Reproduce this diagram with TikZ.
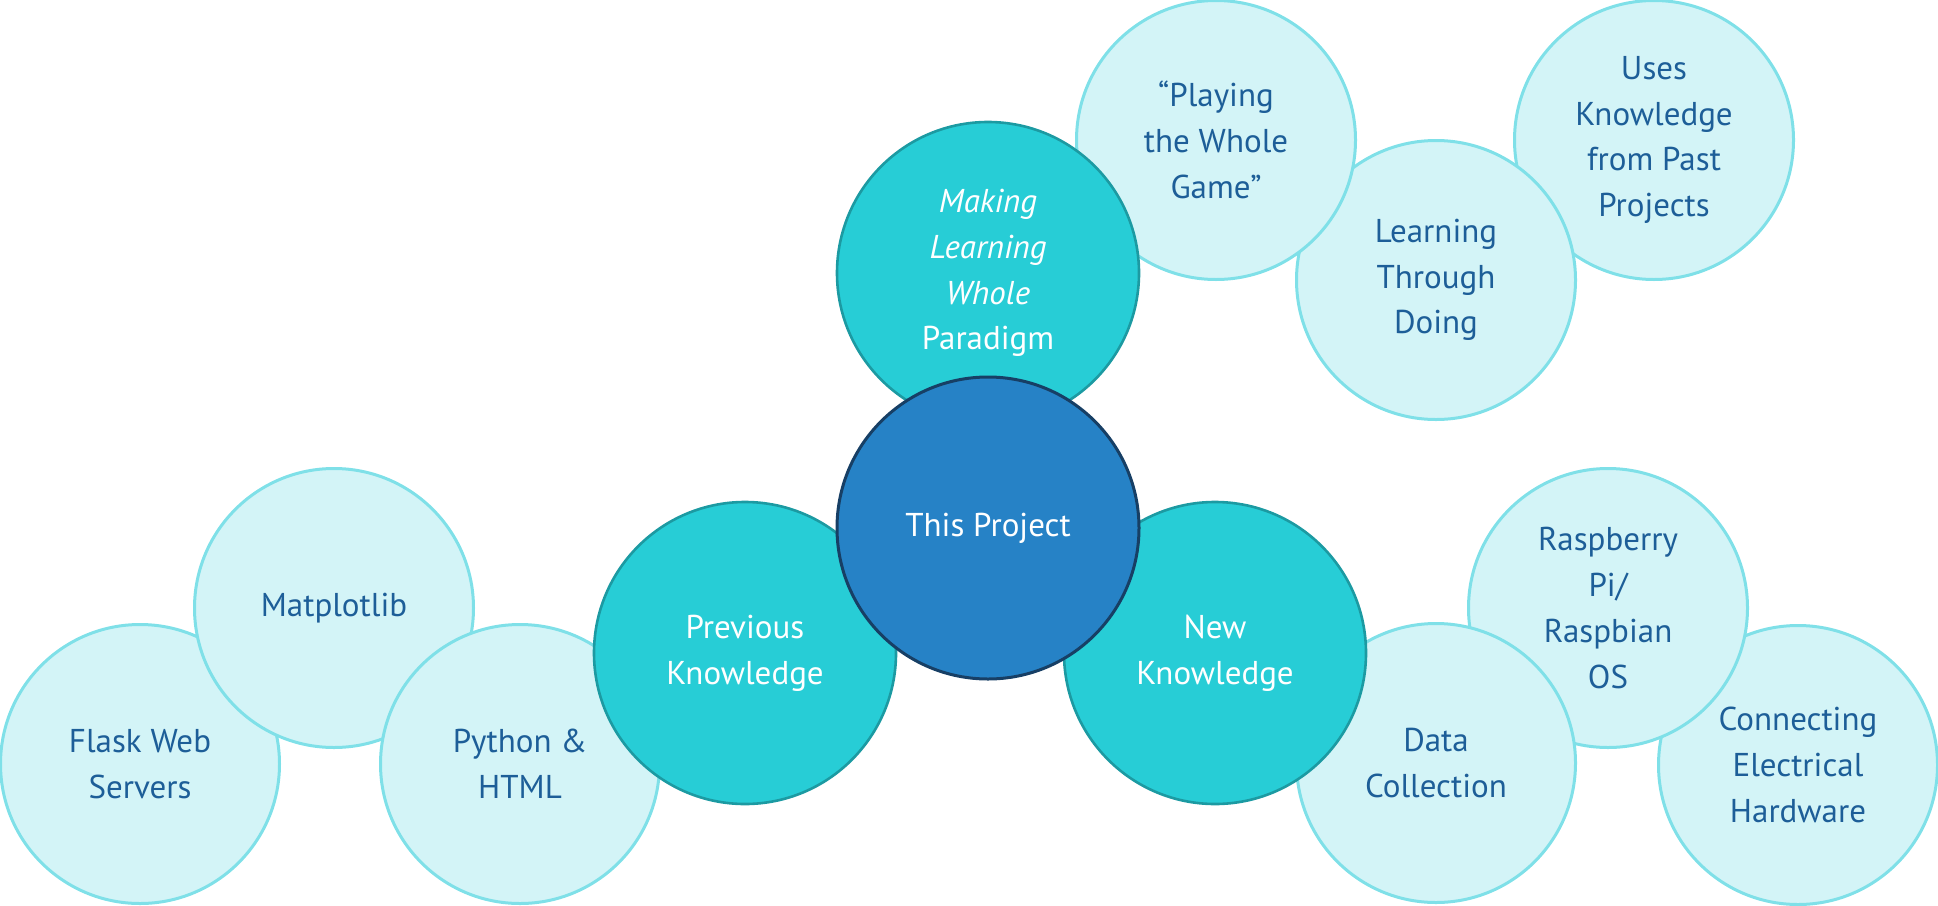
\documentclass[tikz,border=0pt]{standalone}
\usepackage{fontspec}
\setmainfont{PT Sans}
\definecolor{leaffill}{HTML}{D3F4F7}
\definecolor{leafline}{HTML}{7FE0E8}
\definecolor{leaftext}{HTML}{1D5E98}
\definecolor{hubfill}{HTML}{27CDD6}
\definecolor{hubline}{HTML}{1C9AA2}
\definecolor{corefill}{HTML}{2682C6}
\definecolor{coreline}{HTML}{173F65}
\tikzset{
  bubble/.style={circle, inner sep=0pt, align=center,
    font=\fontsize{16.5}{22.9}\selectfont},
  leaf/.style={bubble, minimum size=139.5pt, fill=leaffill, draw=leafline,
    line width=1.5pt, text=leaftext},
  hub/.style={bubble, minimum size=151pt, fill=hubfill, draw=hubline,
    line width=1.3pt, text=white},
  core/.style={bubble, minimum size=151pt, fill=corefill, draw=coreline,
    line width=1.5pt, text=white},
}
\begin{document}
\begin{tikzpicture}[x=0.5pt, y=-0.5pt]
  \useasboundingbox (0,0) rectangle (1938,905);

  % previous knowledge branch (left)
  \node[leaf] (flask) at (140,764) {Flask Web\\Servers};
  \node[leaf] (matplot) at (334,608) {Matplotlib};
  \node[leaf] (python) at (520,764) {Python \&\\HTML};
  \node[hub] (prev) at (745,653) {Previous\\Knowledge};

  % new knowledge branch (right)
  \node[leaf] (wiring) at (1798,765) {Connecting\\Electrical\\Hardware};
  \node[leaf] (raspi) at (1608,608) {Raspberry\\Pi/\\Raspbian\\OS};
  \node[leaf] (datacol) at (1436,763) {Data\\Collection};
  \node[hub] (newk) at (1215,653) {New\\Knowledge};

  % paradigm branch (top)
  \node[leaf] (uses) at (1654,140) {Uses\\Knowledge\\from Past\\Projects};
  \node[leaf] (doing) at (1436,280) {Learning\\Through\\Doing};
  \node[leaf] (playing) at (1216,140) {``Playing\\the Whole\\Game''};
  \node[hub] (paradigm) at (988,273) {\itshape Making\\\itshape Learning\\\itshape Whole\\Paradigm};

  % centre
  \node[core] (project) at (988,528) {This Project};
\end{tikzpicture}
\end{document}
